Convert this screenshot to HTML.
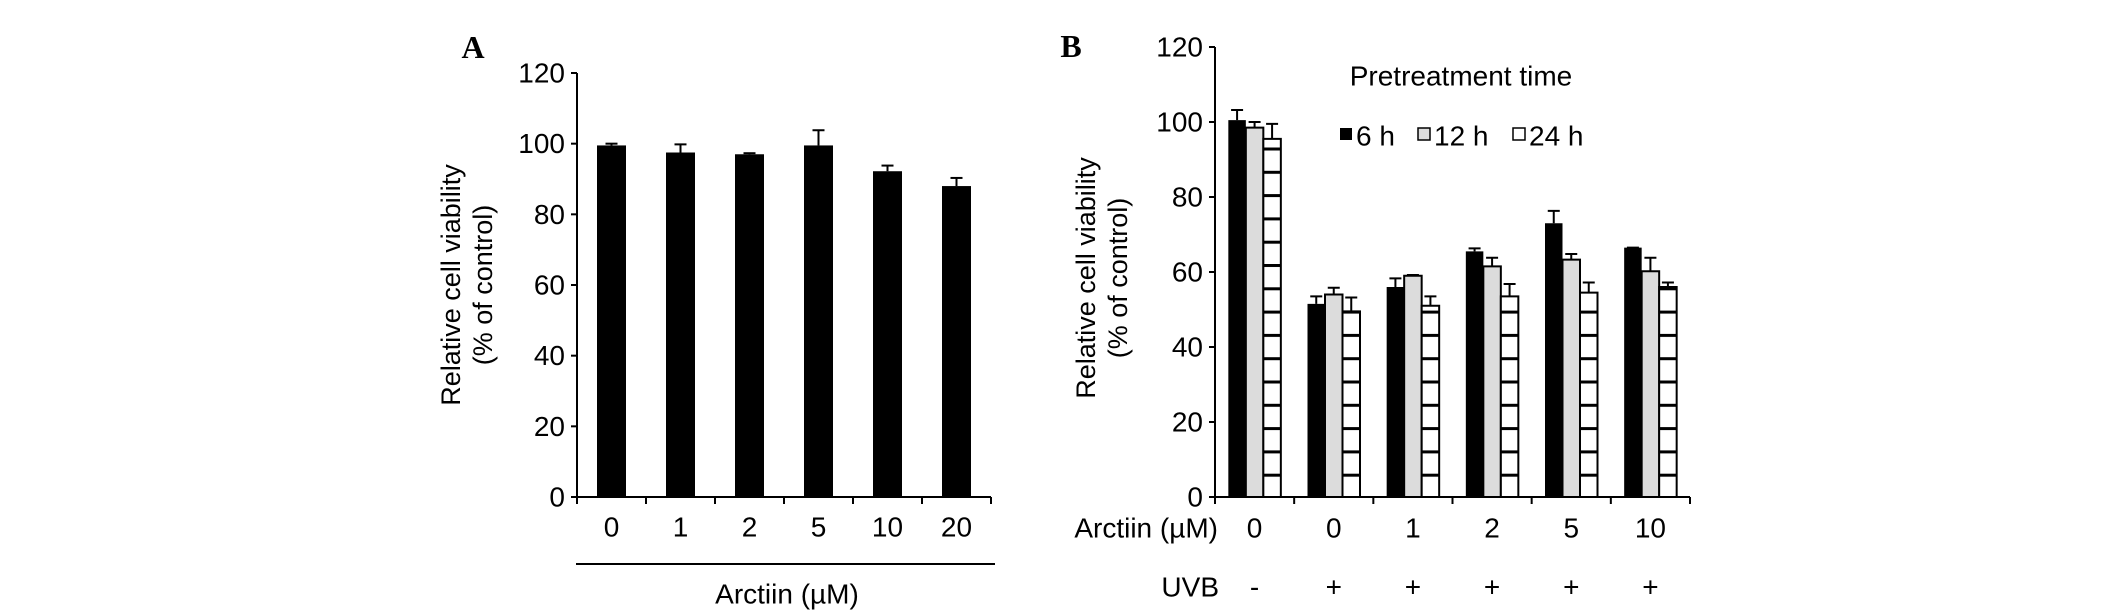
<!DOCTYPE html>
<html><head><meta charset="utf-8"><style>
html,body{margin:0;padding:0;background:#fff;width:2126px;height:615px;overflow:hidden}
svg{display:block;font-family:"Liberation Sans",Arial,sans-serif}
</style></head><body>
<svg id="fig" width="2126" height="615" viewBox="0 0 2126 615" xmlns="http://www.w3.org/2000/svg">
<defs>
<pattern id="hatch" patternUnits="userSpaceOnUse" x="0" y="497" width="40" height="23.3">
<rect width="40" height="23.3" fill="#fff"/><rect y="0" width="40" height="3" fill="#000"/>
</pattern>
</defs>
</svg>
<script>
// Panel A data
const catsA = ["0","1","2","5","10","20"];
const valsA = [99.5,97.5,97,99.5,92.2,88];
const errA = [0.5,2.3,0.3,4.3,1.6,2.3];
const ticksA = [0,20,40,60,80,100,120];
// Panel B data
const catsB = ["0","0","1","2","5","10"];
const uvbB = ["-","+","+","+","+","+"];
const seriesNames = ["6 h","12 h","24 h"];
const vals6h = [100.5,51.5,56,65.5,73,66.5];
const err6h = [2.7,2,2.3,0.8,3.3,0];
const vals12h = [98.5,54,59,61.5,63.3,60.2];
const err12h = [1.5,1.8,0.2,2.3,1.5,3.6];
const vals24h = [95.5,49.5,51,53.5,54.5,56];
const err24h = [4,3.7,2.5,3.3,2.7,1.2];
const ticksB = [0,20,40,60,80,100,120];

const svg = document.getElementById('fig');
const NS = "http://www.w3.org/2000/svg";
function mk(tag, attrs, name, parent){
  const e = document.createElementNS(NS, tag);
  for (const k in attrs) e.setAttribute(k, attrs[k]);
  
  
  (parent||svg).appendChild(e);
  return e;
}
function txt(x,y,s,name,opts){
  const t = mk('text', Object.assign({x:x,y:y,'font-size':28,'text-anchor':'middle','dominant-baseline':'central',fill:'#000'}, opts||{}), name);
  t.textContent = s;
  return t;
}

// ---------- Panel A ----------
const A = {x0:577, x1:991, y0:497, y1:73};
const yA = v => A.y0 - (v/120)*(A.y0-A.y1);
const gwA = (A.x1-A.x0)/catsA.length;
const xA = i => A.x0 + gwA*(i+0.5);
txt(473,47,"A","panel-a-label",{'font-family':'"Liberation Serif",serif','font-weight':'bold','font-size':32});
mk('line',{x1:A.x0,y1:A.y1,x2:A.x0,y2:A.y0,stroke:'#000','stroke-width':2},'y-axis-a');
mk('line',{x1:A.x0-6,y1:A.y0,x2:A.x1,y2:A.y0,stroke:'#000','stroke-width':2},'x-axis-a');
ticksA.forEach(v=>{
  mk('line',{x1:A.x0-6,y1:yA(v),x2:A.x0,y2:yA(v),stroke:'#000','stroke-width':2},'y-tick-a');
  txt(A.x0-12,yA(v),String(v),'y-tick-label-a',{'text-anchor':'end'});
});
for(let i=0;i<=catsA.length;i++){
  mk('line',{x1:A.x0+gwA*i,y1:A.y0,x2:A.x0+gwA*i,y2:A.y0+7,stroke:'#000','stroke-width':2},'x-tick-a');
}
catsA.forEach((c,i)=>{
  const bw=29;
  mk('rect',{x:xA(i)-bw/2,y:yA(valsA[i]),width:bw,height:A.y0-yA(valsA[i]),fill:'#000'},'bar-a-'+c);
  const ye=yA(valsA[i]+errA[i]);
  mk('line',{x1:xA(i),y1:ye,x2:xA(i),y2:yA(valsA[i]),stroke:'#000','stroke-width':2},'error-bar-a');
  mk('line',{x1:xA(i)-6,y1:ye,x2:xA(i)+6,y2:ye,stroke:'#000','stroke-width':2},'error-cap-a');
  txt(xA(i),527,c,'x-tick-label-a');
});
mk('line',{x1:576,y1:564,x2:995,y2:564,stroke:'#000','stroke-width':2},'x-group-line-a');
txt(787,594,"Arctiin (\u00b5M)","x-axis-title-a");
const ylA = mk('text',{transform:'translate(468,285) rotate(-90)','font-size':27,'text-anchor':'middle',fill:'#000'},'y-axis-title-a');
ylA.innerHTML = '<tspan x="0" dy="-8">Relative cell viability</tspan><tspan x="0" dy="32">(% of control)</tspan>';

// ---------- Panel B ----------
const B = {x0:1215, x1:1690, y0:497, y1:47};
const yB = v => B.y0 - (v/120)*(B.y0-B.y1);
const gwB = (B.x1-B.x0)/catsB.length;
txt(1071,46,"B","panel-b-label",{'font-family':'"Liberation Serif",serif','font-weight':'bold','font-size':32});
mk('line',{x1:B.x0,y1:B.y1,x2:B.x0,y2:B.y0,stroke:'#000','stroke-width':2},'y-axis-b');
mk('line',{x1:B.x0-6,y1:B.y0,x2:B.x1,y2:B.y0,stroke:'#000','stroke-width':2},'x-axis-b');
ticksB.forEach(v=>{
  mk('line',{x1:B.x0-6,y1:yB(v),x2:B.x0,y2:yB(v),stroke:'#000','stroke-width':2},'y-tick-b');
  txt(B.x0-12,yB(v),String(v),'y-tick-label-b',{'text-anchor':'end'});
});
for(let i=0;i<=catsB.length;i++){
  mk('line',{x1:B.x0+gwB*i,y1:B.y0,x2:B.x0+gwB*i,y2:B.y0+7,stroke:'#000','stroke-width':2},'x-tick-b');
}
const series=[[vals6h,err6h,'#000'],[vals12h,err12h,'#dcdcdc'],[vals24h,err24h,'url(#hatch)']];
const bwB=17.5;
catsB.forEach((c,i)=>{
  const gs = B.x0+gwB*i + (gwB-3*bwB)/2;
  series.forEach((s,k)=>{
    const x=gs+k*bwB, v=s[0][i];
    mk('rect',{x:x,y:yB(v),width:bwB,height:B.y0-yB(v),fill:s[2],stroke:'#000','stroke-width':k===0?0:2},'bar-b-'+seriesNames[k].replace(' ','')+'-'+i);
    const cx=x+bwB/2, ye=yB(v+s[1][i]);
    mk('line',{x1:cx,y1:ye,x2:cx,y2:yB(v),stroke:'#000','stroke-width':2},'error-bar-b');
    mk('line',{x1:cx-6,y1:ye,x2:cx+6,y2:ye,stroke:'#000','stroke-width':2},'error-cap-b');
  });
  const cx=B.x0+gwB*(i+0.5);
  txt(cx,528,c,'x-tick-label-b');
  txt(cx,587,uvbB[i],'uvb-label-b');
});
txt(1218,528,"Arctiin (\u00b5M)","arctiin-row-title",{'text-anchor':'end'});
txt(1219,587,"UVB","uvb-row-title",{'text-anchor':'end'});
const ylB = mk('text',{transform:'translate(1103,278) rotate(-90)','font-size':27,'text-anchor':'middle',fill:'#000'},'y-axis-title-b');
ylB.innerHTML = '<tspan x="0" dy="-8">Relative cell viability</tspan><tspan x="0" dy="32">(% of control)</tspan>';
// legend
txt(1461,76,"Pretreatment time","legend-title",{'font-size':28});
const legX=[1340,1418,1513], legF=['#000','#dcdcdc','#fff'];
seriesNames.forEach((n,k)=>{
  mk('rect',{x:legX[k],y:128,width:12,height:12,fill:legF[k],stroke:'#000','stroke-width':k===0?0:1.5},'legend-swatch-'+n.replace(' ',''));
  txt(legX[k]+16,136,n,'legend-entry-'+n.replace(' ',''),{'text-anchor':'start','font-size':28});
});
</script>
</body></html>
